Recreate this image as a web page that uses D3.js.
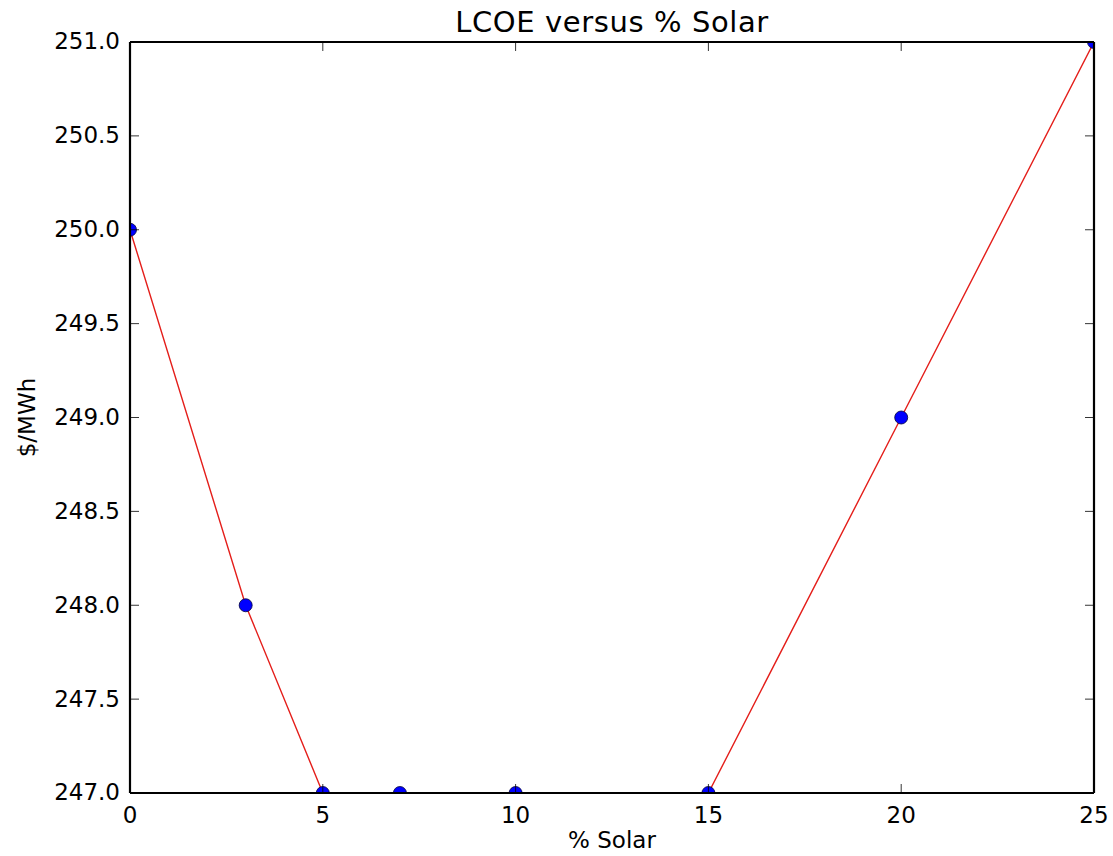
<!DOCTYPE html>
<html>
<head>
<meta charset="utf-8">
<script src="https://cdn.jsdelivr.net/npm/d3@7"></script>
<style>
  body { margin: 0; background: #fff; }
  text { font-family: "DejaVu Sans", sans-serif; fill: #000; }
</style>
</head>
<body>
<div id="chart"></div>
<script>
const solar = [0, 3, 5, 7, 10, 15, 20, 25]
const lcoe = [250, 248, 247, 247, 247, 247, 249, 251]
const xTicks = [0, 5, 10, 15, 20, 25]
const yTicks = [247.0, 247.5, 248.0, 248.5, 249.0, 249.5, 250.0, 250.5, 251.0]

const width = 1113
const height = 856
const margin = { top: 42, right: 19, bottom: 63, left: 130 }

const svg = d3.select('#chart')
    .append('svg')
    .attr('width', width)
    .attr('height', height)

const x = d3.scaleLinear()
    .domain([0, 25])
    .range([margin.left, width - margin.right])

const y = d3.scaleLinear()
    .domain([247, 251])
    .range([height - margin.bottom, margin.top])

svg.append('clipPath')
    .attr('id', 'plot-clip')
    .append('rect')
    .attr('x', x(0))
    .attr('y', y(251))
    .attr('width', x(25) - x(0))
    .attr('height', y(247) - y(251))

const tickLen = 9

// ticks point inward, on all four sides
const xAxisB = d3.axisBottom(x).tickValues(xTicks).tickSizeInner(-tickLen).tickSizeOuter(0).tickPadding(14).offset(0).tickFormat(d3.format('d'))
const xAxisT = d3.axisTop(x).tickValues(xTicks).tickSizeInner(-tickLen).tickSizeOuter(0).offset(0).tickFormat('')
const yAxisL = d3.axisLeft(y).tickValues(yTicks).tickSizeInner(-tickLen).tickSizeOuter(0).tickPadding(10).offset(0).tickFormat(d3.format('.1f'))
const yAxisR = d3.axisRight(y).tickValues(yTicks).tickSizeInner(-tickLen).tickSizeOuter(0).offset(0).tickFormat('')

const axes = [
    [xAxisB, `translate(0,${y(247)})`],
    [xAxisT, `translate(0,${y(251)})`],
    [yAxisL, `translate(${x(0)},0)`],
    [yAxisR, `translate(${x(25)},0)`]
]

const plot = svg.append('g').attr('clip-path', 'url(#plot-clip)')

plot.append('path')
    .datum(solar.map((s, i) => [s, lcoe[i]]))
    .attr('fill', 'none')
    .attr('stroke', '#e41e1a')
    .attr('stroke-width', 1.4)
    .attr('d', d3.line().x(d => x(d[0])).y(d => y(d[1])))

plot.selectAll('circle')
    .data(solar.map((s, i) => [s, lcoe[i]]))
    .enter().append('circle')
    .attr('cx', d => x(d[0]))
    .attr('cy', d => y(d[1]))
    .attr('r', 6.5)
    .attr('fill', '#0000ff')
    .attr('stroke', '#00003a')
    .attr('stroke-width', 0.8)

axes.forEach(([ax, tr]) => {
    const g = svg.append('g').attr('transform', tr).call(ax)
    g.select('.domain').attr('stroke', '#000').attr('stroke-width', 2.2)
    g.selectAll('.tick line').attr('stroke', '#000').attr('stroke-width', 0.8)
    g.selectAll('.tick text')
        .style('font-size', '23px')
        .attr('fill', '#111')
})

svg.append('text')
    .attr('x', (x(0) + x(25)) / 2)
    .attr('y', 32)
    .attr('text-anchor', 'middle')
    .style('font-size', '29px')
    .style('letter-spacing', '0.6px')
    .text('LCOE versus % Solar')

svg.append('text')
    .attr('x', (x(0) + x(25)) / 2)
    .attr('y', 848)
    .attr('text-anchor', 'middle')
    .style('font-size', '23px')
    .text('% Solar')

svg.append('text')
    .attr('transform', `translate(35,${(y(247) + y(251)) / 2}) rotate(-90)`)
    .attr('text-anchor', 'middle')
    .style('font-size', '23px')
    .text('$/MWh')
</script>
</body>
</html>
